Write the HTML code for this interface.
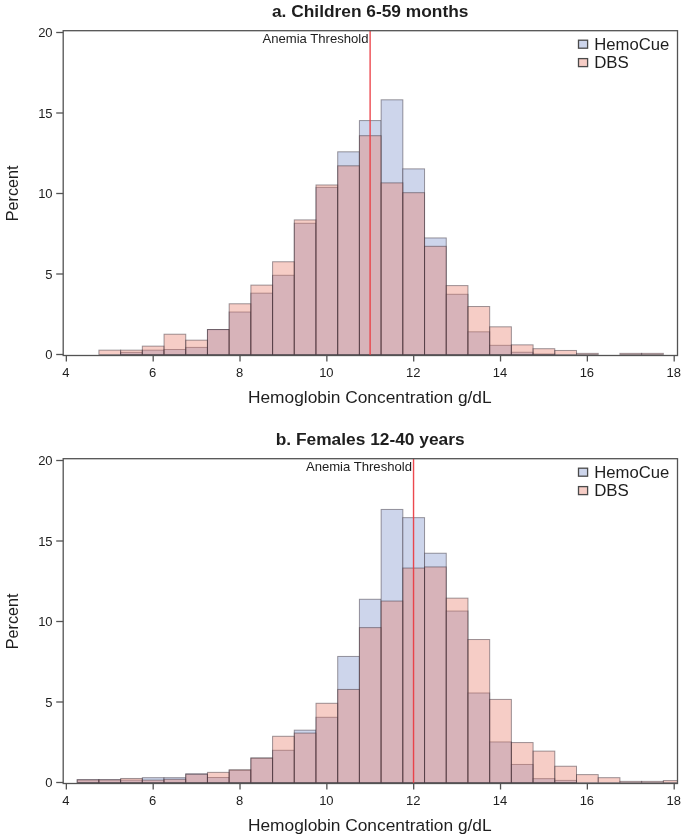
<!DOCTYPE html>
<html lang="en">
<head>
<meta charset="utf-8">
<title>Hemoglobin concentration histograms</title>
<style>
html,body{margin:0;padding:0;background:#fff;}
body{width:685px;height:835px;overflow:hidden;font-family:"Liberation Sans",Arial,sans-serif;}
svg{display:block;will-change:transform;-webkit-font-smoothing:antialiased;}
</style>
</head>
<body>
<svg width="685" height="835" viewBox="0 0 685 835" font-family="'Liberation Sans', Arial, sans-serif">
<rect width="685" height="835" fill="#ffffff"/>
<g>
<text x="370.2" y="16.70" text-anchor="middle" font-size="17.33" font-weight="bold" fill="#1e1e1e">a. Children 6-59 months</text>
<rect x="120.62" y="352.41" width="21.71" height="2.09" fill="#cdd5eb" stroke="rgba(45,38,48,0.46)" stroke-width="1"/>
<rect x="142.33" y="350.15" width="21.71" height="4.35" fill="#cdd5eb" stroke="rgba(45,38,48,0.46)" stroke-width="1"/>
<rect x="164.04" y="349.51" width="21.71" height="4.99" fill="#cdd5eb" stroke="rgba(45,38,48,0.46)" stroke-width="1"/>
<rect x="185.75" y="347.42" width="21.71" height="7.08" fill="#cdd5eb" stroke="rgba(45,38,48,0.46)" stroke-width="1"/>
<rect x="207.46" y="329.55" width="21.71" height="24.95" fill="#cdd5eb" stroke="rgba(45,38,48,0.46)" stroke-width="1"/>
<rect x="229.17" y="312.00" width="21.71" height="42.50" fill="#cdd5eb" stroke="rgba(45,38,48,0.46)" stroke-width="1"/>
<rect x="250.88" y="293.16" width="21.71" height="61.34" fill="#cdd5eb" stroke="rgba(45,38,48,0.46)" stroke-width="1"/>
<rect x="272.58" y="275.29" width="21.71" height="79.21" fill="#cdd5eb" stroke="rgba(45,38,48,0.46)" stroke-width="1"/>
<rect x="294.29" y="223.28" width="21.71" height="131.22" fill="#cdd5eb" stroke="rgba(45,38,48,0.46)" stroke-width="1"/>
<rect x="316.00" y="187.38" width="21.71" height="167.12" fill="#cdd5eb" stroke="rgba(45,38,48,0.46)" stroke-width="1"/>
<rect x="337.71" y="151.80" width="21.71" height="202.70" fill="#cdd5eb" stroke="rgba(45,38,48,0.46)" stroke-width="1"/>
<rect x="359.42" y="120.57" width="21.71" height="233.93" fill="#cdd5eb" stroke="rgba(45,38,48,0.46)" stroke-width="1"/>
<rect x="381.13" y="99.80" width="21.71" height="254.70" fill="#cdd5eb" stroke="rgba(45,38,48,0.46)" stroke-width="1"/>
<rect x="402.84" y="168.87" width="21.71" height="185.63" fill="#cdd5eb" stroke="rgba(45,38,48,0.46)" stroke-width="1"/>
<rect x="424.55" y="237.94" width="21.71" height="116.56" fill="#cdd5eb" stroke="rgba(45,38,48,0.46)" stroke-width="1"/>
<rect x="446.26" y="294.29" width="21.71" height="60.21" fill="#cdd5eb" stroke="rgba(45,38,48,0.46)" stroke-width="1"/>
<rect x="467.97" y="331.80" width="21.71" height="22.70" fill="#cdd5eb" stroke="rgba(45,38,48,0.46)" stroke-width="1"/>
<rect x="489.67" y="345.32" width="21.71" height="9.18" fill="#cdd5eb" stroke="rgba(45,38,48,0.46)" stroke-width="1"/>
<rect x="511.38" y="352.25" width="21.71" height="2.25" fill="#cdd5eb" stroke="rgba(45,38,48,0.46)" stroke-width="1"/>
<rect x="533.09" y="354.02" width="21.71" height="0.48" fill="#cdd5eb" stroke="rgba(45,38,48,0.46)" stroke-width="1"/>
<rect x="98.91" y="350.15" width="21.71" height="4.35" fill="rgba(231,123,105,0.38)" stroke="rgba(45,38,48,0.46)" stroke-width="1"/>
<rect x="120.62" y="350.15" width="21.71" height="4.35" fill="rgba(231,123,105,0.38)" stroke="rgba(45,38,48,0.46)" stroke-width="1"/>
<rect x="142.33" y="346.13" width="21.71" height="8.37" fill="rgba(231,123,105,0.38)" stroke="rgba(45,38,48,0.46)" stroke-width="1"/>
<rect x="164.04" y="334.21" width="21.71" height="20.29" fill="rgba(231,123,105,0.38)" stroke="rgba(45,38,48,0.46)" stroke-width="1"/>
<rect x="185.75" y="340.17" width="21.71" height="14.33" fill="rgba(231,123,105,0.38)" stroke="rgba(45,38,48,0.46)" stroke-width="1"/>
<rect x="207.46" y="329.55" width="21.71" height="24.95" fill="rgba(231,123,105,0.38)" stroke="rgba(45,38,48,0.46)" stroke-width="1"/>
<rect x="229.17" y="303.78" width="21.71" height="50.72" fill="rgba(231,123,105,0.38)" stroke="rgba(45,38,48,0.46)" stroke-width="1"/>
<rect x="250.88" y="285.11" width="21.71" height="69.39" fill="rgba(231,123,105,0.38)" stroke="rgba(45,38,48,0.46)" stroke-width="1"/>
<rect x="272.58" y="261.76" width="21.71" height="92.74" fill="rgba(231,123,105,0.38)" stroke="rgba(45,38,48,0.46)" stroke-width="1"/>
<rect x="294.29" y="219.90" width="21.71" height="134.60" fill="rgba(231,123,105,0.38)" stroke="rgba(45,38,48,0.46)" stroke-width="1"/>
<rect x="316.00" y="184.97" width="21.71" height="169.53" fill="rgba(231,123,105,0.38)" stroke="rgba(45,38,48,0.46)" stroke-width="1"/>
<rect x="337.71" y="165.81" width="21.71" height="188.69" fill="rgba(231,123,105,0.38)" stroke="rgba(45,38,48,0.46)" stroke-width="1"/>
<rect x="359.42" y="135.70" width="21.71" height="218.80" fill="rgba(231,123,105,0.38)" stroke="rgba(45,38,48,0.46)" stroke-width="1"/>
<rect x="381.13" y="182.87" width="21.71" height="171.63" fill="rgba(231,123,105,0.38)" stroke="rgba(45,38,48,0.46)" stroke-width="1"/>
<rect x="402.84" y="192.69" width="21.71" height="161.81" fill="rgba(231,123,105,0.38)" stroke="rgba(45,38,48,0.46)" stroke-width="1"/>
<rect x="424.55" y="246.31" width="21.71" height="108.19" fill="rgba(231,123,105,0.38)" stroke="rgba(45,38,48,0.46)" stroke-width="1"/>
<rect x="446.26" y="285.59" width="21.71" height="68.91" fill="rgba(231,123,105,0.38)" stroke="rgba(45,38,48,0.46)" stroke-width="1"/>
<rect x="467.97" y="306.52" width="21.71" height="47.98" fill="rgba(231,123,105,0.38)" stroke="rgba(45,38,48,0.46)" stroke-width="1"/>
<rect x="489.67" y="326.81" width="21.71" height="27.69" fill="rgba(231,123,105,0.38)" stroke="rgba(45,38,48,0.46)" stroke-width="1"/>
<rect x="511.38" y="344.84" width="21.71" height="9.66" fill="rgba(231,123,105,0.38)" stroke="rgba(45,38,48,0.46)" stroke-width="1"/>
<rect x="533.09" y="348.70" width="21.71" height="5.80" fill="rgba(231,123,105,0.38)" stroke="rgba(45,38,48,0.46)" stroke-width="1"/>
<rect x="554.80" y="350.48" width="21.71" height="4.02" fill="rgba(231,123,105,0.38)" stroke="rgba(45,38,48,0.46)" stroke-width="1"/>
<rect x="576.51" y="353.37" width="21.71" height="1.13" fill="rgba(231,123,105,0.38)" stroke="rgba(45,38,48,0.46)" stroke-width="1"/>
<rect x="619.93" y="353.37" width="21.71" height="1.13" fill="rgba(231,123,105,0.38)" stroke="rgba(45,38,48,0.46)" stroke-width="1"/>
<rect x="641.64" y="353.37" width="21.71" height="1.13" fill="rgba(231,123,105,0.38)" stroke="rgba(45,38,48,0.46)" stroke-width="1"/>
<line x1="370.12" y1="30.70" x2="370.12" y2="355.50" stroke="rgba(234,58,64,0.92)" stroke-width="1.4"/>
<text x="368.52" y="43.00" text-anchor="end" font-size="13.1" fill="#1e1e1e">Anemia Threshold</text>
<rect x="63.2" y="30.70" width="614.30" height="324.80" fill="none" stroke="#535353" stroke-width="1.3"/>
<line x1="56.2" y1="354.50" x2="63.2" y2="354.50" stroke="#535353" stroke-width="1.3"/>
<text x="52.6" y="359.05" text-anchor="end" font-size="13" fill="#1e1e1e">0</text>
<line x1="56.2" y1="274.00" x2="63.2" y2="274.00" stroke="#535353" stroke-width="1.3"/>
<text x="52.6" y="278.55" text-anchor="end" font-size="13" fill="#1e1e1e">5</text>
<line x1="56.2" y1="193.50" x2="63.2" y2="193.50" stroke="#535353" stroke-width="1.3"/>
<text x="52.6" y="198.05" text-anchor="end" font-size="13" fill="#1e1e1e">10</text>
<line x1="56.2" y1="113.00" x2="63.2" y2="113.00" stroke="#535353" stroke-width="1.3"/>
<text x="52.6" y="117.55" text-anchor="end" font-size="13" fill="#1e1e1e">15</text>
<line x1="56.2" y1="32.50" x2="63.2" y2="32.50" stroke="#535353" stroke-width="1.3"/>
<text x="52.6" y="37.05" text-anchor="end" font-size="13" fill="#1e1e1e">20</text>
<line x1="66.35" y1="355.50" x2="66.35" y2="361.50" stroke="#535353" stroke-width="1.3"/>
<text x="65.85" y="376.80" text-anchor="middle" font-size="13" fill="#1e1e1e">4</text>
<line x1="153.19" y1="355.50" x2="153.19" y2="361.50" stroke="#535353" stroke-width="1.3"/>
<text x="152.69" y="376.80" text-anchor="middle" font-size="13" fill="#1e1e1e">6</text>
<line x1="240.02" y1="355.50" x2="240.02" y2="361.50" stroke="#535353" stroke-width="1.3"/>
<text x="239.52" y="376.80" text-anchor="middle" font-size="13" fill="#1e1e1e">8</text>
<line x1="326.86" y1="355.50" x2="326.86" y2="361.50" stroke="#535353" stroke-width="1.3"/>
<text x="326.36" y="376.80" text-anchor="middle" font-size="13" fill="#1e1e1e">10</text>
<line x1="413.69" y1="355.50" x2="413.69" y2="361.50" stroke="#535353" stroke-width="1.3"/>
<text x="413.19" y="376.80" text-anchor="middle" font-size="13" fill="#1e1e1e">12</text>
<line x1="500.53" y1="355.50" x2="500.53" y2="361.50" stroke="#535353" stroke-width="1.3"/>
<text x="500.03" y="376.80" text-anchor="middle" font-size="13" fill="#1e1e1e">14</text>
<line x1="587.36" y1="355.50" x2="587.36" y2="361.50" stroke="#535353" stroke-width="1.3"/>
<text x="586.86" y="376.80" text-anchor="middle" font-size="13" fill="#1e1e1e">16</text>
<line x1="674.20" y1="355.50" x2="674.20" y2="361.50" stroke="#535353" stroke-width="1.3"/>
<text x="673.70" y="376.80" text-anchor="middle" font-size="13" fill="#1e1e1e">18</text>
<text x="369.8" y="402.50" text-anchor="middle" font-size="17.33" fill="#1e1e1e">Hemoglobin Concentration g/dL</text>
<text transform="translate(18.1,193.40) rotate(-90)" text-anchor="middle" font-size="17.3" textLength="55.6" lengthAdjust="spacingAndGlyphs" fill="#1e1e1e">Percent</text>
<rect x="578.5" y="40.20" width="9.1" height="8.0" fill="#cdd5eb" stroke="#4a4a4a" stroke-width="1.3"/>
<text x="594.2" y="49.60" font-size="15.6" textLength="75.1" lengthAdjust="spacingAndGlyphs" fill="#1e1e1e">HemoCue</text>
<rect x="578.5" y="58.60" width="9.1" height="8.0" fill="#f6cdc6" stroke="#4a4a4a" stroke-width="1.3"/>
<text x="594.2" y="68.00" font-size="15.6" textLength="34.7" lengthAdjust="spacingAndGlyphs" fill="#1e1e1e">DBS</text>
</g>
<g>
<text x="370.2" y="444.70" text-anchor="middle" font-size="17.33" font-weight="bold" fill="#1e1e1e">b. Females 12-40 years</text>
<rect x="77.20" y="779.76" width="21.71" height="2.74" fill="#cdd5eb" stroke="rgba(45,38,48,0.46)" stroke-width="1"/>
<rect x="98.91" y="779.76" width="21.71" height="2.74" fill="#cdd5eb" stroke="rgba(45,38,48,0.46)" stroke-width="1"/>
<rect x="120.62" y="780.09" width="21.71" height="2.41" fill="#cdd5eb" stroke="rgba(45,38,48,0.46)" stroke-width="1"/>
<rect x="142.33" y="777.67" width="21.71" height="4.83" fill="#cdd5eb" stroke="rgba(45,38,48,0.46)" stroke-width="1"/>
<rect x="164.04" y="777.67" width="21.71" height="4.83" fill="#cdd5eb" stroke="rgba(45,38,48,0.46)" stroke-width="1"/>
<rect x="185.75" y="773.81" width="21.71" height="8.69" fill="#cdd5eb" stroke="rgba(45,38,48,0.46)" stroke-width="1"/>
<rect x="207.46" y="777.51" width="21.71" height="4.99" fill="#cdd5eb" stroke="rgba(45,38,48,0.46)" stroke-width="1"/>
<rect x="229.17" y="770.26" width="21.71" height="12.24" fill="#cdd5eb" stroke="rgba(45,38,48,0.46)" stroke-width="1"/>
<rect x="250.88" y="758.03" width="21.71" height="24.47" fill="#cdd5eb" stroke="rgba(45,38,48,0.46)" stroke-width="1"/>
<rect x="272.58" y="750.30" width="21.71" height="32.20" fill="#cdd5eb" stroke="rgba(45,38,48,0.46)" stroke-width="1"/>
<rect x="294.29" y="730.17" width="21.71" height="52.33" fill="#cdd5eb" stroke="rgba(45,38,48,0.46)" stroke-width="1"/>
<rect x="316.00" y="717.30" width="21.71" height="65.20" fill="#cdd5eb" stroke="rgba(45,38,48,0.46)" stroke-width="1"/>
<rect x="337.71" y="656.44" width="21.71" height="126.06" fill="#cdd5eb" stroke="rgba(45,38,48,0.46)" stroke-width="1"/>
<rect x="359.42" y="599.28" width="21.71" height="183.22" fill="#cdd5eb" stroke="rgba(45,38,48,0.46)" stroke-width="1"/>
<rect x="381.13" y="509.44" width="21.71" height="273.06" fill="#cdd5eb" stroke="rgba(45,38,48,0.46)" stroke-width="1"/>
<rect x="402.84" y="517.65" width="21.71" height="264.85" fill="#cdd5eb" stroke="rgba(45,38,48,0.46)" stroke-width="1"/>
<rect x="424.55" y="553.24" width="21.71" height="229.26" fill="#cdd5eb" stroke="rgba(45,38,48,0.46)" stroke-width="1"/>
<rect x="446.26" y="611.03" width="21.71" height="171.47" fill="#cdd5eb" stroke="rgba(45,38,48,0.46)" stroke-width="1"/>
<rect x="467.97" y="692.98" width="21.71" height="89.52" fill="#cdd5eb" stroke="rgba(45,38,48,0.46)" stroke-width="1"/>
<rect x="489.67" y="741.93" width="21.71" height="40.57" fill="#cdd5eb" stroke="rgba(45,38,48,0.46)" stroke-width="1"/>
<rect x="511.38" y="764.47" width="21.71" height="18.03" fill="#cdd5eb" stroke="rgba(45,38,48,0.46)" stroke-width="1"/>
<rect x="533.09" y="778.64" width="21.71" height="3.86" fill="#cdd5eb" stroke="rgba(45,38,48,0.46)" stroke-width="1"/>
<rect x="554.80" y="780.41" width="21.71" height="2.09" fill="#cdd5eb" stroke="rgba(45,38,48,0.46)" stroke-width="1"/>
<rect x="77.20" y="779.76" width="21.71" height="2.74" fill="rgba(231,123,105,0.38)" stroke="rgba(45,38,48,0.46)" stroke-width="1"/>
<rect x="98.91" y="779.76" width="21.71" height="2.74" fill="rgba(231,123,105,0.38)" stroke="rgba(45,38,48,0.46)" stroke-width="1"/>
<rect x="120.62" y="778.48" width="21.71" height="4.02" fill="rgba(231,123,105,0.38)" stroke="rgba(45,38,48,0.46)" stroke-width="1"/>
<rect x="142.33" y="780.09" width="21.71" height="2.41" fill="rgba(231,123,105,0.38)" stroke="rgba(45,38,48,0.46)" stroke-width="1"/>
<rect x="164.04" y="779.28" width="21.71" height="3.22" fill="rgba(231,123,105,0.38)" stroke="rgba(45,38,48,0.46)" stroke-width="1"/>
<rect x="185.75" y="774.29" width="21.71" height="8.21" fill="rgba(231,123,105,0.38)" stroke="rgba(45,38,48,0.46)" stroke-width="1"/>
<rect x="207.46" y="772.36" width="21.71" height="10.14" fill="rgba(231,123,105,0.38)" stroke="rgba(45,38,48,0.46)" stroke-width="1"/>
<rect x="229.17" y="769.78" width="21.71" height="12.72" fill="rgba(231,123,105,0.38)" stroke="rgba(45,38,48,0.46)" stroke-width="1"/>
<rect x="250.88" y="758.03" width="21.71" height="24.47" fill="rgba(231,123,105,0.38)" stroke="rgba(45,38,48,0.46)" stroke-width="1"/>
<rect x="272.58" y="736.29" width="21.71" height="46.21" fill="rgba(231,123,105,0.38)" stroke="rgba(45,38,48,0.46)" stroke-width="1"/>
<rect x="294.29" y="733.07" width="21.71" height="49.43" fill="rgba(231,123,105,0.38)" stroke="rgba(45,38,48,0.46)" stroke-width="1"/>
<rect x="316.00" y="703.29" width="21.71" height="79.21" fill="rgba(231,123,105,0.38)" stroke="rgba(45,38,48,0.46)" stroke-width="1"/>
<rect x="337.71" y="689.44" width="21.71" height="93.06" fill="rgba(231,123,105,0.38)" stroke="rgba(45,38,48,0.46)" stroke-width="1"/>
<rect x="359.42" y="627.62" width="21.71" height="154.88" fill="rgba(231,123,105,0.38)" stroke="rgba(45,38,48,0.46)" stroke-width="1"/>
<rect x="381.13" y="601.05" width="21.71" height="181.45" fill="rgba(231,123,105,0.38)" stroke="rgba(45,38,48,0.46)" stroke-width="1"/>
<rect x="402.84" y="568.05" width="21.71" height="214.45" fill="rgba(231,123,105,0.38)" stroke="rgba(45,38,48,0.46)" stroke-width="1"/>
<rect x="424.55" y="566.92" width="21.71" height="215.58" fill="rgba(231,123,105,0.38)" stroke="rgba(45,38,48,0.46)" stroke-width="1"/>
<rect x="446.26" y="598.15" width="21.71" height="184.35" fill="rgba(231,123,105,0.38)" stroke="rgba(45,38,48,0.46)" stroke-width="1"/>
<rect x="467.97" y="639.53" width="21.71" height="142.97" fill="rgba(231,123,105,0.38)" stroke="rgba(45,38,48,0.46)" stroke-width="1"/>
<rect x="489.67" y="699.42" width="21.71" height="83.08" fill="rgba(231,123,105,0.38)" stroke="rgba(45,38,48,0.46)" stroke-width="1"/>
<rect x="511.38" y="742.57" width="21.71" height="39.93" fill="rgba(231,123,105,0.38)" stroke="rgba(45,38,48,0.46)" stroke-width="1"/>
<rect x="533.09" y="751.11" width="21.71" height="31.39" fill="rgba(231,123,105,0.38)" stroke="rgba(45,38,48,0.46)" stroke-width="1"/>
<rect x="554.80" y="766.24" width="21.71" height="16.26" fill="rgba(231,123,105,0.38)" stroke="rgba(45,38,48,0.46)" stroke-width="1"/>
<rect x="576.51" y="774.61" width="21.71" height="7.89" fill="rgba(231,123,105,0.38)" stroke="rgba(45,38,48,0.46)" stroke-width="1"/>
<rect x="598.22" y="777.67" width="21.71" height="4.83" fill="rgba(231,123,105,0.38)" stroke="rgba(45,38,48,0.46)" stroke-width="1"/>
<rect x="619.93" y="781.37" width="21.71" height="1.13" fill="rgba(231,123,105,0.38)" stroke="rgba(45,38,48,0.46)" stroke-width="1"/>
<rect x="641.64" y="781.37" width="21.71" height="1.13" fill="rgba(231,123,105,0.38)" stroke="rgba(45,38,48,0.46)" stroke-width="1"/>
<rect x="663.35" y="780.57" width="14.15" height="1.93" fill="rgba(231,123,105,0.38)" stroke="rgba(45,38,48,0.46)" stroke-width="1"/>
<line x1="413.54" y1="458.70" x2="413.54" y2="783.50" stroke="rgba(234,58,64,0.92)" stroke-width="1.4"/>
<text x="411.94" y="471.00" text-anchor="end" font-size="13.1" fill="#1e1e1e">Anemia Threshold</text>
<rect x="63.2" y="458.70" width="614.30" height="324.80" fill="none" stroke="#535353" stroke-width="1.3"/>
<line x1="56.2" y1="782.50" x2="63.2" y2="782.50" stroke="#535353" stroke-width="1.3"/>
<text x="52.6" y="787.05" text-anchor="end" font-size="13" fill="#1e1e1e">0</text>
<line x1="56.2" y1="702.00" x2="63.2" y2="702.00" stroke="#535353" stroke-width="1.3"/>
<text x="52.6" y="706.55" text-anchor="end" font-size="13" fill="#1e1e1e">5</text>
<line x1="56.2" y1="621.50" x2="63.2" y2="621.50" stroke="#535353" stroke-width="1.3"/>
<text x="52.6" y="626.05" text-anchor="end" font-size="13" fill="#1e1e1e">10</text>
<line x1="56.2" y1="541.00" x2="63.2" y2="541.00" stroke="#535353" stroke-width="1.3"/>
<text x="52.6" y="545.55" text-anchor="end" font-size="13" fill="#1e1e1e">15</text>
<line x1="56.2" y1="460.50" x2="63.2" y2="460.50" stroke="#535353" stroke-width="1.3"/>
<text x="52.6" y="465.05" text-anchor="end" font-size="13" fill="#1e1e1e">20</text>
<line x1="66.35" y1="783.50" x2="66.35" y2="789.50" stroke="#535353" stroke-width="1.3"/>
<text x="65.85" y="804.80" text-anchor="middle" font-size="13" fill="#1e1e1e">4</text>
<line x1="153.19" y1="783.50" x2="153.19" y2="789.50" stroke="#535353" stroke-width="1.3"/>
<text x="152.69" y="804.80" text-anchor="middle" font-size="13" fill="#1e1e1e">6</text>
<line x1="240.02" y1="783.50" x2="240.02" y2="789.50" stroke="#535353" stroke-width="1.3"/>
<text x="239.52" y="804.80" text-anchor="middle" font-size="13" fill="#1e1e1e">8</text>
<line x1="326.86" y1="783.50" x2="326.86" y2="789.50" stroke="#535353" stroke-width="1.3"/>
<text x="326.36" y="804.80" text-anchor="middle" font-size="13" fill="#1e1e1e">10</text>
<line x1="413.69" y1="783.50" x2="413.69" y2="789.50" stroke="#535353" stroke-width="1.3"/>
<text x="413.19" y="804.80" text-anchor="middle" font-size="13" fill="#1e1e1e">12</text>
<line x1="500.53" y1="783.50" x2="500.53" y2="789.50" stroke="#535353" stroke-width="1.3"/>
<text x="500.03" y="804.80" text-anchor="middle" font-size="13" fill="#1e1e1e">14</text>
<line x1="587.36" y1="783.50" x2="587.36" y2="789.50" stroke="#535353" stroke-width="1.3"/>
<text x="586.86" y="804.80" text-anchor="middle" font-size="13" fill="#1e1e1e">16</text>
<line x1="674.20" y1="783.50" x2="674.20" y2="789.50" stroke="#535353" stroke-width="1.3"/>
<text x="673.70" y="804.80" text-anchor="middle" font-size="13" fill="#1e1e1e">18</text>
<text x="369.8" y="830.50" text-anchor="middle" font-size="17.33" fill="#1e1e1e">Hemoglobin Concentration g/dL</text>
<text transform="translate(18.1,621.40) rotate(-90)" text-anchor="middle" font-size="17.3" textLength="55.6" lengthAdjust="spacingAndGlyphs" fill="#1e1e1e">Percent</text>
<rect x="578.5" y="468.20" width="9.1" height="8.0" fill="#cdd5eb" stroke="#4a4a4a" stroke-width="1.3"/>
<text x="594.2" y="477.60" font-size="15.6" textLength="75.1" lengthAdjust="spacingAndGlyphs" fill="#1e1e1e">HemoCue</text>
<rect x="578.5" y="486.60" width="9.1" height="8.0" fill="#f6cdc6" stroke="#4a4a4a" stroke-width="1.3"/>
<text x="594.2" y="496.00" font-size="15.6" textLength="34.7" lengthAdjust="spacingAndGlyphs" fill="#1e1e1e">DBS</text>
</g>
</svg>
</body>
</html>
